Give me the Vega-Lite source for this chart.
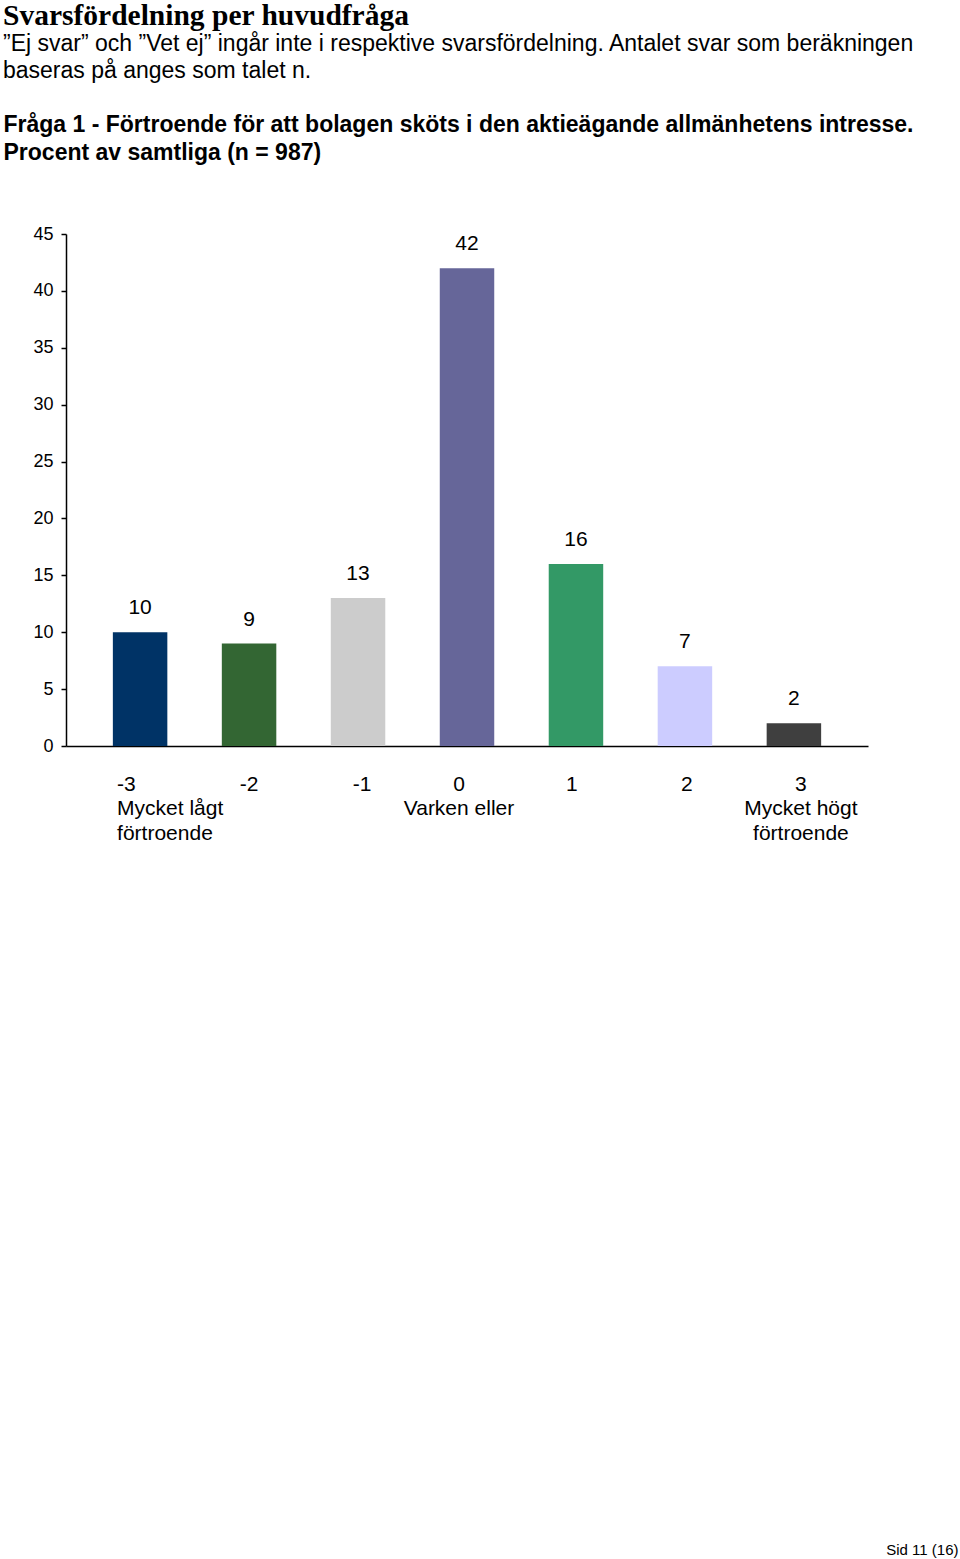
{
  "$schema": "https://vega.github.io/schema/vega-lite/v6.json",
  "autosize": "none",
  "width": 802,
  "height": 512,
  "padding": {"left": 66, "top": 234, "right": 92, "bottom": 813},
  "background": "white",
  "config": {"view": {"stroke": null}, "font": "Liberation Sans"},
  "title": {
    "text": "Svarsfördelning per huvudfråga",
    "subtitle": ["”Ej svar” och ”Vet ej” ingår inte i respektive svarsfördelning. Antalet svar som beräkningen", "baseras på anges som talet n."],
    "anchor": "start",
    "frame": "group",
    "dx": -63,
    "offset": 29,
    "font": "Liberation Serif",
    "fontSize": 29.5,
    "fontWeight": "bold",
    "color": "black",
    "subtitleFont": "Liberation Sans",
    "subtitleFontSize": 23,
    "subtitleColor": "black",
    "subtitleLineHeight": 27,
    "subtitlePadding": 2
  },
  "data": {
    "values": [
      {"kategori": "-3", "procent": 10, "farg": "a"},
      {"kategori": "-2", "procent": 9, "farg": "b"},
      {"kategori": "-1", "procent": 13, "farg": "c"},
      {"kategori": "0", "procent": 42, "farg": "d"},
      {"kategori": "1", "procent": 16, "farg": "e"},
      {"kategori": "2", "procent": 7, "farg": "f"},
      {"kategori": "3", "procent": 2, "farg": "g"}
    ]
  },
  "encoding": {
    "x": {
      "field": "kategori",
      "type": "ordinal",
      "sort": ["-3", "-2", "-1", "0", "1", "2", "3"],
      "scale": {"paddingInner": 0.5, "paddingOuter": 0.43},
      "axis": {
        "title": "Sid 11 (16)",
        "titleX": 892,
        "titleY": 808,
        "titleAlign": "right",
        "titleBaseline": "alphabetic",
        "titleFontSize": 15,
        "titleFontWeight": "normal",
        "titleColor": "black",
        "labelAngle": 0,
        "labelExpr": "datum.value == '-3' ? ['-3', 'Mycket lågt', 'förtroende'] : datum.value == '0' ? ['0', 'Varken eller'] : datum.value == '3' ? ['3', 'Mycket högt', 'förtroende'] : datum.value",
        "labelFontSize": 21,
        "labelLineHeight": 24.5,
        "labelBaseline": "top",
        "labelPadding": 27,
        "labelColor": "black",
        "labelLimit": 0,
        "labelAlign": {"condition": {"test": "datum.value == '-3'", "value": "left"}, "value": "center"},
        "labelOffset": {
          "condition": [
            {"test": "datum.value == '-3'", "value": -23},
            {"test": "datum.value == '-1'", "value": 4},
            {"test": "datum.value == '0'", "value": -8},
            {"test": "datum.value == '1'", "value": -4},
            {"test": "datum.value == '2'", "value": 2},
            {"test": "datum.value == '3'", "value": 7}
          ],
          "value": 0
        },
        "ticks": false,
        "tickSize": 0,
        "domainColor": "black",
        "domainWidth": 1.5
      }
    },
    "y": {
      "field": "procent",
      "type": "quantitative",
      "scale": {"domain": [0, 45], "nice": false},
      "axis": {
        "title": ["Fråga 1 - Förtroende för att bolagen sköts i den aktieägande allmänhetens intresse.", "Procent av samtliga (n = 987)"],
        "titleAngle": 0,
        "titleAlign": "left",
        "titleBaseline": "alphabetic",
        "titleX": -63,
        "titleY": -103,
        "titleFontSize": 23,
        "titleFontWeight": "bold",
        "titleLineHeight": 28,
        "titleColor": "black",
        "titleLimit": 0,
        "values": [0, 5, 10, 15, 20, 25, 30, 35, 40, 45],
        "grid": false,
        "tickSize": 5,
        "tickColor": "black",
        "tickWidth": 1.5,
        "labelFontSize": 18,
        "labelPadding": 8,
        "labelColor": "black",
        "domainColor": "black",
        "domainWidth": 1.5
      }
    }
  },
  "layer": [
    {
      "mark": {"type": "bar"},
      "encoding": {
        "color": {
          "field": "farg",
          "type": "nominal",
          "scale": {
            "domain": ["a", "b", "c", "d", "e", "f", "g"],
            "range": ["#003366", "#336633", "#cccccc", "#666699", "#339966", "#ccccff", "#3f3f3f"]
          },
          "legend": null
        }
      }
    },
    {
      "mark": {"type": "text", "fontSize": 21, "baseline": "alphabetic", "dy": -18, "color": "black"},
      "encoding": {"text": {"field": "procent", "type": "quantitative"}}
    }
  ]
}
